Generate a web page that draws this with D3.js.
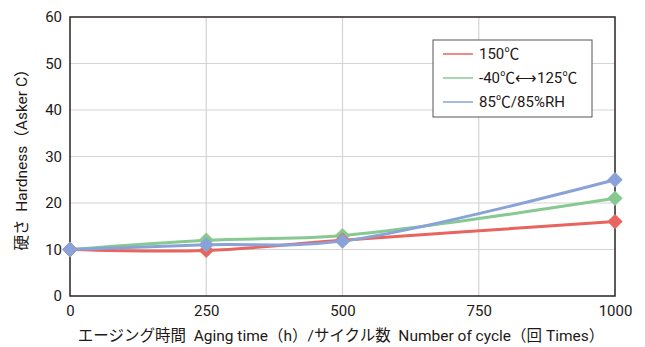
<!DOCTYPE html>
<html><head><meta charset="utf-8">
<script src="https://cdn.jsdelivr.net/npm/d3@7"></script>
<style>body{margin:0;background:#fff}svg{display:block}text{font-family:"Roboto","Noto Sans CJK JP",sans-serif;fill:#231815;white-space:pre}</style>
</head><body><svg id="c" width="645" height="347"></svg>
<script>
const xValues = [0, 250, 500, 1000];
const series150 = [10, 9.8, 12, 16];
const seriesCycle = [10, 12, 13, 21];
const series85 = [10, 11, 11.8, 25];
const seriesNames = ["150℃", "-40℃⟷125℃", "85℃/85%RH"];
const seriesColors = ["#e8645f", "#88c992", "#89a3d8"];
const xTicks = [0, 250, 500, 750, 1000];
const yTicks = [0, 10, 20, 30, 40, 50, 60];
const xLabel = "エージング時間  Aging time（h）/サイクル数  Number of cycle（回 Times）";
const yLabel = "硬さ  Hardness（Asker C）";

const svg = d3.select("#c");
const L = 70, R = 615, T = 17, B = 296;
const x = d3.scaleLinear().domain([0, 1000]).range([L, R]);
const y = d3.scaleLinear().domain([0, 60]).range([B, T]);

// grid
svg.append("g").selectAll("line").data(yTicks.filter(d => d > 0 && d < 60)).join("line")
  .attr("x1", L).attr("x2", R).attr("y1", d => y(d)).attr("y2", d => y(d))
  .attr("stroke", "#d4d4d4").attr("stroke-width", 1.2);
svg.append("g").selectAll("line").data(xTicks.filter(d => d > 0 && d < 1000)).join("line")
  .attr("y1", T).attr("y2", B).attr("x1", d => x(d)).attr("x2", d => x(d))
  .attr("stroke", "#d4d4d4").attr("stroke-width", 1.2);

// axes
const fmt = d3.format("d");
const xa = svg.append("g").attr("transform", `translate(0,${B})`)
  .call(d3.axisBottom(x).tickValues(xTicks).tickFormat(fmt).tickSize(0).tickPadding(9));
xa.select(".domain").remove();
xa.selectAll("text").attr("font-size", 15).style("font-family", '"Roboto",sans-serif').attr("fill", "#231815");
const ya = svg.append("g").attr("transform", `translate(${L},0)`)
  .call(d3.axisLeft(y).tickValues(yTicks).tickFormat(fmt).tickSize(0).tickPadding(8));
ya.select(".domain").remove();
ya.selectAll("text").attr("font-size", 15).style("font-family", '"Roboto",sans-serif').attr("fill", "#231815");

// frame
svg.append("rect").attr("x", L).attr("y", T).attr("width", R - L).attr("height", B - T)
  .attr("fill", "none").attr("stroke", "#2a2220").attr("stroke-width", 1.5);

// lines
const all = [series150, seriesCycle, series85];
const line = d3.line().x((d, i) => x(xValues[i])).y(d => y(d)).curve(d3.curveCatmullRom.alpha(0.5));
const order = [1, 0, 2];
order.forEach(k => {
  svg.append("path").attr("d", line(all[k])).attr("fill", "none")
    .attr("stroke", seriesColors[k]).attr("stroke-width", 3);
});
const sym = d3.symbol().type(d3.symbolDiamond2).size(150);
order.forEach(k => {
  svg.append("g").selectAll("path").data(all[k]).join("path")
    .attr("d", sym).attr("fill", seriesColors[k])
    .attr("transform", (d, i) => `translate(${x(xValues[i])},${y(d)})`);
});

// legend
const lg = svg.append("g");
lg.append("rect").attr("x", 433).attr("y", 40).attr("width", 159).attr("height", 77)
  .attr("fill", "#fff").attr("stroke", "#555").attr("stroke-width", 1);
seriesNames.forEach((n, i) => {
  const yy = 54 + i * 24;
  lg.append("line").attr("x1", 443).attr("x2", 473).attr("y1", yy).attr("y2", yy)
    .attr("stroke", seriesColors[i]).attr("stroke-width", 1.5);
  lg.append("text").attr("x", 479).attr("y", yy + 5).attr("font-size", 15).text(n);
});

// axis titles
svg.append("text").attr("x", 341).attr("y", 341).attr("text-anchor", "middle")
  .attr("font-size", 15.5).text(xLabel);
svg.append("text").attr("transform", "translate(27,156) rotate(-90)").attr("text-anchor", "middle")
  .attr("font-size", 15.5).text(yLabel);
</script></body></html>
